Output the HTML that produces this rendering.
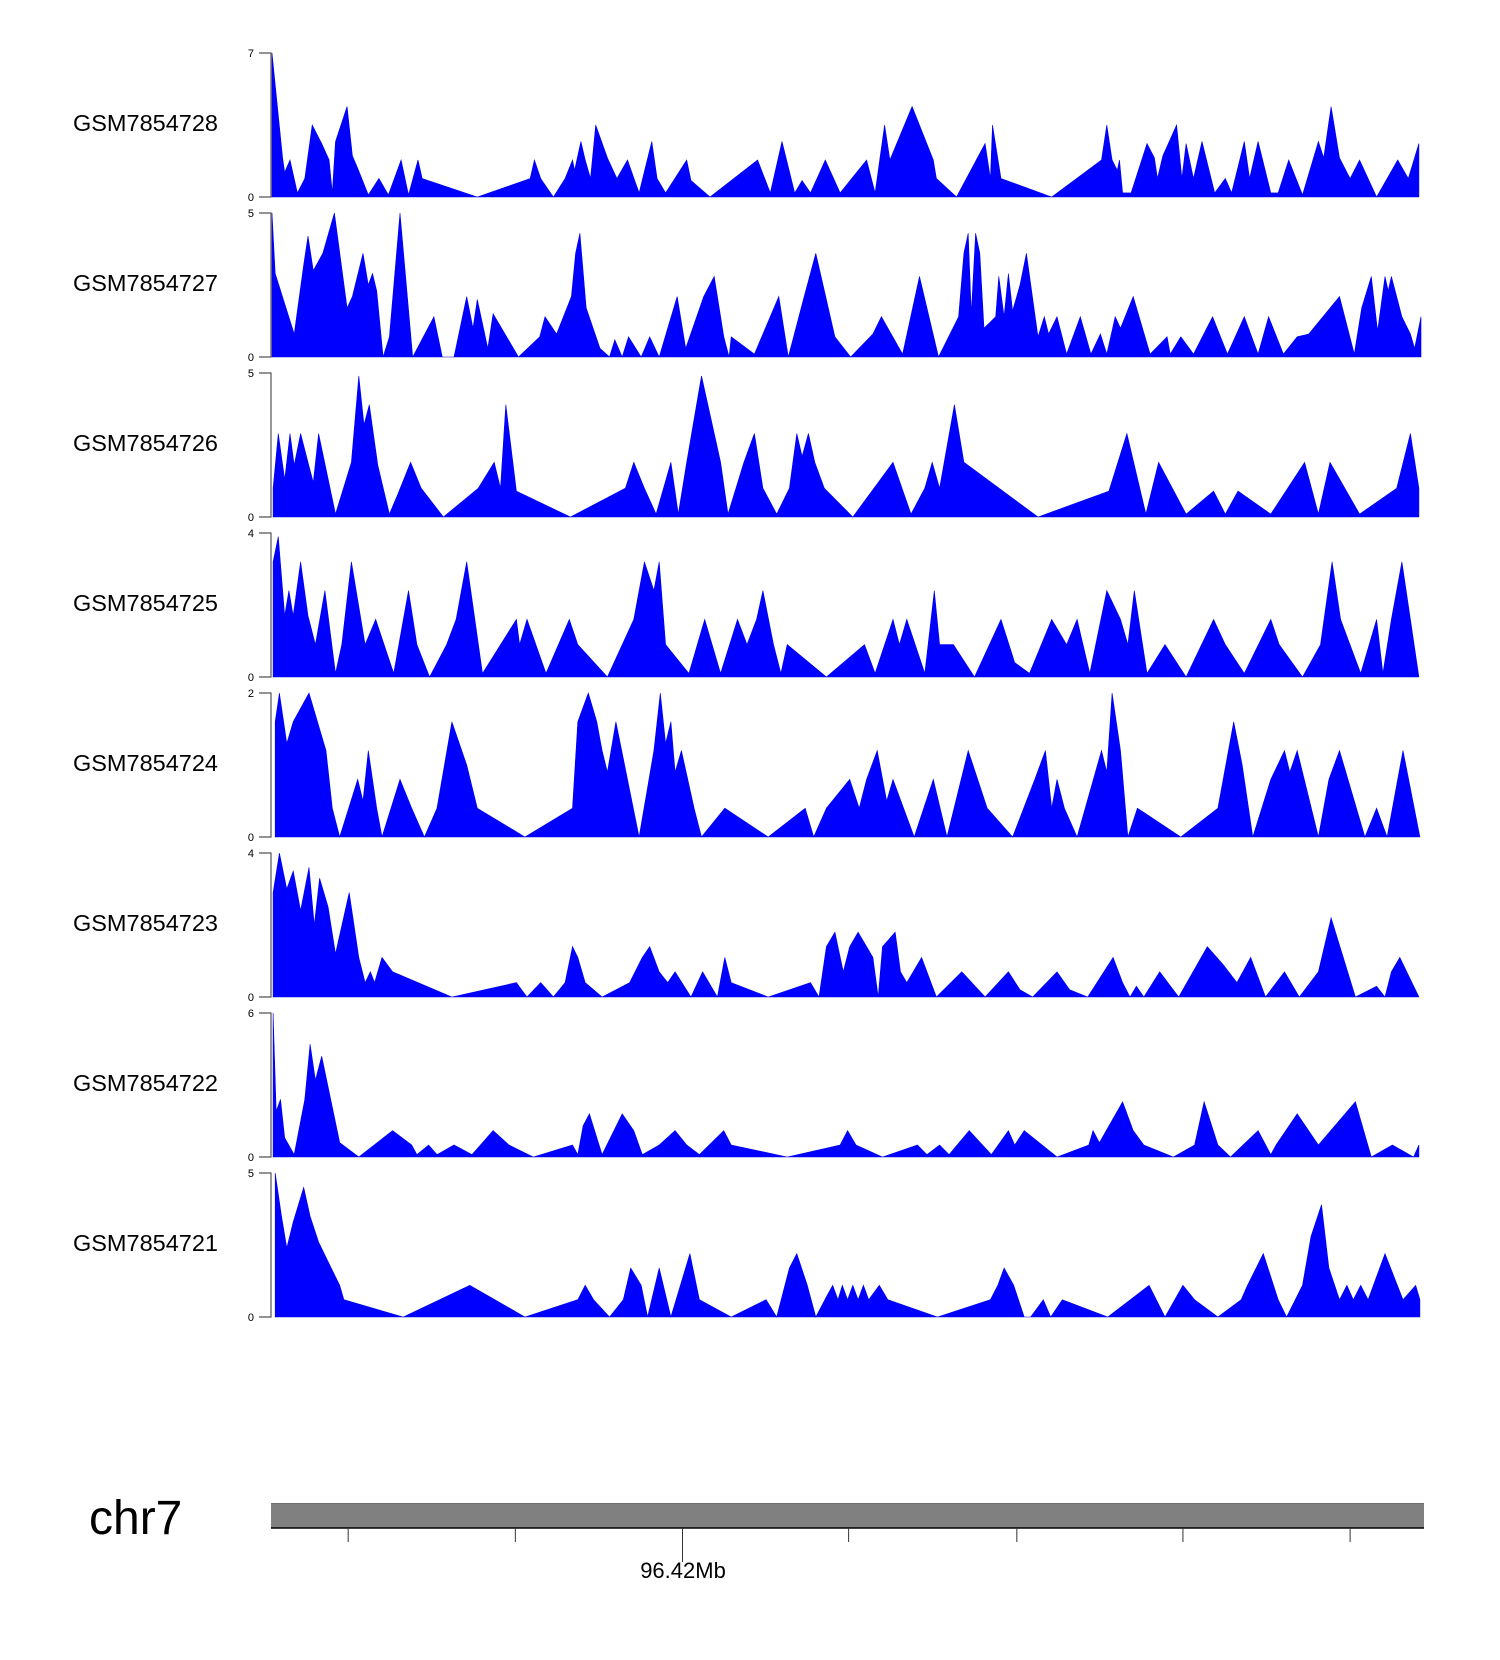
<!DOCTYPE html>
<html><head><meta charset="utf-8"><style>
html,body{margin:0;padding:0;background:#fff;}
svg{display:block;font-family:"Liberation Sans",sans-serif;}
</style></head><body>
<svg id="chart" width="1500" height="1660" viewBox="0 0 1500 1660" xmlns="http://www.w3.org/2000/svg">
<g id="tracks"></g>
<g id="ideogram">
<text x="89" y="1534" font-size="48" fill="#000">chr7</text>
<rect x="271" y="1503" width="1153" height="25" fill="#808080"/>
<line x1="271" y1="1503.5" x2="1424" y2="1503.5" stroke="#6e6e6e" stroke-width="1"/>
<line x1="271" y1="1528" x2="1424" y2="1528" stroke="#000" stroke-width="1.5"/>
<text x="683" y="1578" font-size="22" text-anchor="middle" fill="#000">96.42Mb</text>
</g>
</svg>
<script>
const trackNames = ["GSM7854728","GSM7854727","GSM7854726","GSM7854725","GSM7854724","GSM7854723","GSM7854722","GSM7854721"];
const trackMax = [7,5,5,4,2,4,6,5];
const t1 = [[0,7.0],[10,1.9],[12,1.2],[17,1.8],[24,0.2],[31,0.9],[38,3.5],[47,2.6],[54,1.8],[57,0.2],[60,2.7],[71,4.4],[76,2.0],[81,1.4],[91,0.1],[101,0.9],[110,0.1],[122,1.8],[129,0.1],[138,1.8],[142,0.9],[194,0],[244,0.9],[248,1.8],[254,0.9],[266,0],[277,0.9],[284,1.8],[286,1.3],[292,2.7],[296,1.8],[301,0.9],[306,3.5],[317,1.9],[326,0.9],[336,1.8],[347,0.2],[359,2.7],[364,0.9],[372,0.2],[392,1.8],[396,0.8],[414,0],[459,1.8],[471,0.2],[482,2.7],[494,0.2],[501,0.8],[509,0.2],[523,1.8],[537,0.2],[562,1.8],[570,0.2],[579,3.5],[584,1.8],[605,4.4],[615,3.1],[625,1.8],[628,0.9],[647,0],[674,2.6],[679,0.9],[681,3.5],[689,0.9],[737,0],[784,1.8],[789,3.5],[794,1.8],[799,1.3],[801,1.8],[804,0.2],[812,0.2],[827,2.6],[834,1.9],[837,0.9],[842,2.0],[855,3.5],[860,0.9],[864,2.6],[871,0.9],[879,2.7],[891,0.2],[901,0.9],[907,0.2],[919,2.7],[924,0.9],[932,2.7],[944,0.2],[951,0.2],[961,1.8],[974,0.1],[989,2.7],[994,1.9],[1001,4.4],[1009,1.9],[1019,0.9],[1028,1.8],[1044,0],[1064,1.8],[1074,0.9],[1084,2.6]];
const t2 = [[0,5],[3,2.9],[21,0.8],[30,3.2],[34,4.2],[39,3.0],[48,3.6],[59,5],[71,1.7],[76,2.1],[86,3.6],[91,2.5],[95,2.9],[99,2.3],[105,0],[111,0.7],[121,5],[133,0],[153,1.4],[161,0],[172,0],[184,2.1],[190,1.0],[194,2.0],[204,0.3],[209,1.5],[233,0],[253,0.7],[258,1.4],[269,0.8],[283,2.1],[287,3.6],[291,4.3],[297,1.7],[310,0.3],[319,0],[324,0.6],[331,0],[337,0.7],[349,0],[357,0.7],[366,0],[374,1.0],[383,2.1],[391,0.3],[408,2.1],[418,2.8],[427,0.7],[432,0],[434,0.7],[456,0.1],[479,2.1],[488,0],[503,2.1],[514,3.6],[532,0.7],[547,0],[568,0.8],[576,1.4],[596,0.1],[612,2.8],[630,0],[649,1.4],[654,3.6],[658,4.3],[661,1.5],[665,4.3],[669,3.6],[673,1.0],[684,1.4],[687,2.8],[692,1.4],[696,2.9],[700,1.6],[707,2.5],[713,3.6],[724,0.7],[730,1.4],[734,0.8],[742,1.4],[751,0.1],[764,1.4],[774,0.1],[783,0.8],[789,0.1],[797,1.4],[802,1.0],[814,2.1],[830,0.1],[846,0.7],[849,0.1],[859,0.7],[871,0.1],[889,1.4],[903,0.1],[919,1.4],[932,0.1],[942,1.4],[956,0.1],[969,0.7],[980,0.8],[1009,2.1],[1023,0.1],[1030,1.7],[1039,2.8],[1045,0.9],[1052,2.8],[1055,2.3],[1058,2.8],[1068,1.4],[1076,0.8],[1080,0.3],[1086,1.4]];
const t3 = [[1,1.0],[6,2.9],[12,1.3],[17,2.9],[21,1.8],[27,2.9],[34,1.9],[39,1.2],[44,2.9],[60,0.1],[75,1.9],[82,4.9],[87,3.2],[92,3.9],[100,1.8],[111,0.1],[119,0.8],[131,1.9],[141,1.0],[162,0],[195,1.0],[210,1.9],[216,1.0],[221,3.9],[231,0.9],[282,0],[334,1.0],[342,1.9],[352,1.0],[363,0.1],[377,1.9],[384,0.1],[392,1.9],[406,4.9],[424,1.9],[431,0.1],[446,1.9],[456,2.9],[464,1.0],[477,0.1],[489,1.0],[496,2.9],[501,2.1],[507,2.9],[513,1.9],[522,1.0],[549,0],[587,1.9],[604,0.1],[617,1.0],[624,1.9],[631,1.0],[645,3.9],[654,1.9],[724,0],[791,0.9],[808,2.9],[826,0.1],[838,1.9],[864,0.1],[890,0.9],[901,0.1],[913,0.9],[944,0.1],[976,1.9],[989,0.1],[1000,1.9],[1028,0.1],[1063,1.0],[1076,2.9],[1084,1.0]];
const t4 = [[1,3.2],[6,3.9],[12,1.7],[16,2.4],[20,1.7],[27,3.2],[34,1.7],[41,0.9],[50,2.4],[60,0.1],[66,0.9],[75,3.2],[88,0.9],[98,1.6],[115,0.1],[129,2.4],[137,0.9],[149,0],[165,0.9],[174,1.6],[184,3.2],[199,0.1],[231,1.6],[234,0.9],[241,1.6],[259,0.1],[281,1.6],[289,0.9],[317,0],[342,1.6],[352,3.2],[361,2.4],[366,3.2],[372,0.9],[394,0.1],[409,1.6],[424,0.1],[440,1.6],[449,0.9],[458,1.6],[464,2.4],[474,0.9],[481,0.1],[487,0.9],[524,0],[560,0.9],[570,0.1],[587,1.6],[593,0.9],[600,1.6],[617,0.1],[626,2.4],[631,0.9],[644,0.9],[664,0],[689,1.6],[702,0.4],[716,0.1],[737,1.6],[751,0.9],[761,1.6],[773,0.1],[789,2.4],[802,1.6],[809,0.9],[815,2.4],[827,0.1],[844,0.9],[864,0],[890,1.6],[901,0.9],[919,0.1],[944,1.6],[952,0.9],[974,0],[991,0.9],[1002,3.2],[1010,1.6],[1029,0.1],[1044,1.6],[1050,0.1],[1058,1.6],[1068,3.2],[1084,0]];
const t5 = [[3,1.6],[7,2.0],[14,1.3],[20,1.6],[35,2.0],[51,1.2],[57,0.4],[64,0],[81,0.8],[86,0.5],[91,1.2],[99,0.4],[104,0],[121,0.8],[132,0.4],[144,0],[156,0.4],[170,1.6],[184,1.0],[194,0.4],[239,0],[284,0.4],[289,1.6],[299,2.0],[307,1.6],[312,1.2],[317,0.9],[325,1.6],[336,0.8],[347,0],[361,1.2],[367,2.0],[372,1.3],[377,1.6],[381,0.9],[387,1.2],[399,0.4],[406,0],[428,0.4],[469,0],[504,0.4],[512,0],[524,0.4],[546,0.8],[555,0.4],[562,0.8],[572,1.2],[581,0.5],[587,0.8],[597,0.4],[607,0],[625,0.8],[638,0],[658,1.2],[676,0.4],[700,0],[721,0.8],[731,1.2],[737,0.4],[742,0.8],[749,0.4],[761,0],[784,1.2],[789,0.9],[794,2.0],[802,1.2],[809,0],[818,0.4],[859,0],[894,0.4],[909,1.6],[917,1.0],[927,0],[944,0.8],[957,1.2],[962,0.9],[969,1.2],[989,0],[999,0.8],[1009,1.2],[1033,0],[1044,0.4],[1054,0],[1069,1.2],[1085,0]];
const t6 = [[1,2.9],[7,4.0],[14,3.0],[20,3.5],[27,2.4],[35,3.6],[40,2.0],[45,3.3],[53,2.5],[60,1.2],[73,2.9],[82,1.1],[88,0.4],[93,0.7],[97,0.4],[104,1.1],[114,0.7],[170,0],[231,0.4],[241,0],[254,0.4],[266,0],[277,0.4],[284,1.4],[289,1.1],[296,0.4],[312,0],[338,0.4],[350,1.1],[357,1.4],[366,0.7],[374,0.4],[381,0.7],[396,0],[407,0.7],[421,0],[428,1.1],[434,0.4],[469,0],[509,0.4],[517,0],[524,1.4],[532,1.8],[540,0.7],[546,1.4],[554,1.8],[562,1.4],[568,1.1],[573,0],[577,1.4],[589,1.8],[594,0.7],[600,0.4],[614,1.1],[628,0],[652,0.7],[674,0],[696,0.7],[707,0.2],[719,0],[742,0.7],[754,0.2],[771,0],[795,1.1],[804,0.4],[811,0],[817,0.3],[824,0],[839,0.7],[857,0],[884,1.4],[899,0.9],[912,0.4],[925,1.1],[939,0],[957,0.7],[971,0],[989,0.7],[1001,2.2],[1024,0],[1044,0.3],[1052,0],[1058,0.7],[1066,1.1],[1084,0]];
const t7 = [[1,6.0],[4,1.9],[8,2.4],[12,0.8],[21,0.1],[31,2.4],[36,4.7],[41,3.2],[47,4.2],[56,2.3],[64,0.6],[82,0],[114,1.1],[132,0.5],[137,0.1],[148,0.5],[156,0.1],[172,0.5],[189,0.1],[209,1.1],[224,0.5],[247,0],[284,0.5],[289,0.1],[294,1.3],[300,1.8],[312,0.1],[331,1.8],[342,1.1],[350,0.1],[366,0.5],[381,1.1],[392,0.5],[404,0.1],[427,1.1],[434,0.5],[487,0],[537,0.5],[544,1.1],[552,0.5],[577,0],[610,0.5],[619,0.1],[631,0.5],[640,0.1],[659,1.1],[680,0.1],[696,1.1],[702,0.5],[711,1.1],[742,0],[772,0.5],[776,1.1],[782,0.6],[804,2.3],[814,1.1],[824,0.5],[852,0],[872,0.5],[881,2.3],[894,0.5],[906,0],[932,1.1],[944,0.1],[949,0.5],[969,1.8],[989,0.5],[1024,2.3],[1039,0],[1059,0.5],[1079,0],[1084,0.5]];
const t8 = [[3,5.0],[9,3.5],[14,2.4],[20,3.3],[30,4.5],[36,3.5],[44,2.6],[56,1.7],[64,1.1],[68,0.6],[124,0],[187,1.1],[239,0],[289,0.6],[296,1.1],[304,0.6],[319,0],[332,0.6],[339,1.7],[349,1.1],[355,0],[366,1.7],[377,0],[395,2.2],[404,0.6],[434,0],[467,0.6],[477,0],[489,1.7],[496,2.2],[506,1.1],[514,0],[524,0.7],[530,1.1],[535,0.6],[539,1.1],[544,0.6],[549,1.1],[554,0.6],[559,1.1],[564,0.6],[574,1.1],[582,0.6],[629,0],[679,0.6],[686,1.1],[692,1.7],[701,1.1],[711,0],[717,0],[729,0.6],[736,0],[747,0.6],[790,0],[829,1.1],[844,0],[861,1.1],[872,0.6],[894,0],[916,0.6],[922,1.1],[937,2.2],[951,0.6],[959,0],[974,1.1],[982,2.8],[992,3.9],[999,1.7],[1009,0.6],[1016,1.1],[1022,0.6],[1029,1.1],[1036,0.6],[1052,2.2],[1069,0.6],[1081,1.1],[1085,0.6]];
const trackData = [t1,t2,t3,t4,t5,t6,t7,t8];
const genomeTicks = [72,230,388,545,704,861,1019];

const NS = "http://www.w3.org/2000/svg";
const X0 = 272, XS = 1.058, PANEL_TOP = 53, PANEL_STEP = 160.0, PANEL_H = 144;
function xScale(p){ return X0 + p*XS; }
function yScale(v, i){ const base = PANEL_TOP + i*PANEL_STEP + PANEL_H; return base - v/trackMax[i]*PANEL_H; }
function mk(tag, attrs, parent){ const e=document.createElementNS(NS,tag); for(const k in attrs) e.setAttribute(k,attrs[k]); parent.appendChild(e); return e; }

const tracks = document.getElementById("tracks");
trackData.forEach((pts, i) => {
  const top = PANEL_TOP + i*PANEL_STEP, base = top + PANEL_H;
  const g = mk("g", {}, tracks);
  
  
  const lbl = mk("text", {x:218, y:top+PANEL_H/2+6, "font-size":23.5, "text-anchor":"end", fill:"#000"}, g);
  lbl.textContent = trackNames[i];
  
  
  let d = "M" + xScale(pts[0][0]).toFixed(1) + "," + base;
  pts.forEach(p => { d += " L" + xScale(p[0]).toFixed(1) + "," + yScale(p[1], i).toFixed(1); });
  d += " L" + xScale(pts[pts.length-1][0]).toFixed(1) + "," + base + " Z";
  const area = mk("path", {d:d, fill:"#0000ff", stroke:"#0000ee", "stroke-width":0.6}, g);
  
  
  const ax = mk("path", {d:`M259,${top} H271 V${base} H259`, fill:"none", stroke:"#555", "stroke-width":1.2}, g);
  
  
  const tmax = mk("text", {x:254, y:top+4, "font-size":11, "text-anchor":"end", fill:"#000"}, g);
  tmax.textContent = trackMax[i];
  
  
  const t0 = mk("text", {x:254, y:base+4, "font-size":11, "text-anchor":"end", fill:"#000"}, g);
  t0.textContent = "0";
  
  
});

const ideo = document.getElementById("ideogram");
genomeTicks.forEach((p, k) => {
  const x = xScale(p);
  const tk = mk("line", {x1:x, y1:1528, x2:x, y2:(k===2?1562:1542), stroke:"#333", "stroke-width":1}, ideo);
  
  
});
</script>
</body></html>
